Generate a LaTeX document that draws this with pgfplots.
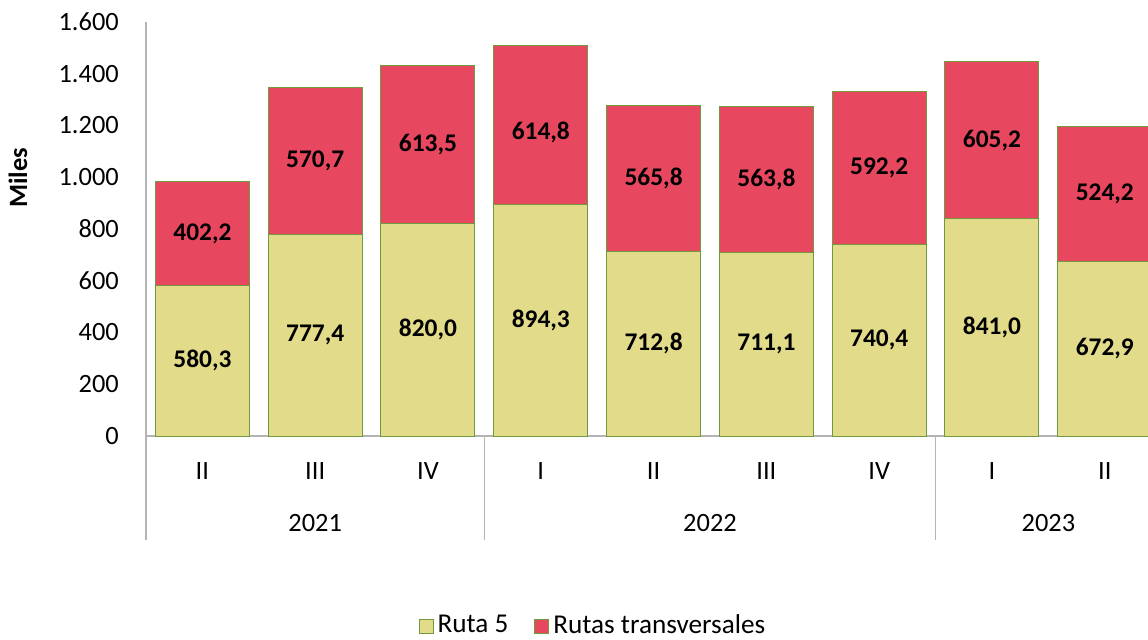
\documentclass[border=0pt]{standalone}
\usepackage{pgfplots}
\pgfplotsset{compat=1.18}
\usepackage{fontspec}
\setmainfont{Carlito}
\definecolor{ruta}{HTML}{E2DB8A}
\definecolor{transv}{HTML}{E8485F}
\definecolor{edge}{HTML}{6F9A3E}
\definecolor{axisgray}{HTML}{B4B4B4}

\begin{document}
\fontsize{13.2}{15}\selectfont
\begin{tikzpicture}
\useasboundingbox (-73pt,-101.5pt) rectangle (501pt,218pt);
\begin{axis}[
  at={(0,0)}, anchor=south west,
  scale only axis, width=501pt, height=207pt,
  ybar stacked, bar width=47pt,
  xmin=-0.5, xmax=8.383, ymin=0, ymax=1600,
  clip mode=individual,
  axis x line*=bottom, axis y line*=left,
  axis line style={axisgray, line width=0.6pt},
  xtick={0,...,8},
  xticklabels={II,III,IV,I,II,III,IV,I,II},
  ytick={0,200,...,1600},
  major tick length=0pt,
  tick style={draw=none},
  tick label style={font=\fontsize{13.2}{15}\selectfont},
  yticklabel style={xshift=-9pt},
  xticklabel style={yshift=-8.5pt},
  /pgf/number format/1000 sep={.},
  /pgf/number format/assume math mode=true,
  legend style={at={(0.447,-0.459)}, anchor=center, draw=none,
    legend columns=2, font=\fontsize{13.6}{15}\selectfont,
    inner sep=1pt,
    /tikz/every even column/.append style={column sep=11pt}},
  legend image code/.code={\draw[#1] (0pt,-3.5pt) rectangle (7pt,3.5pt);},
]
\addplot[fill=ruta, draw=edge, line width=0.5pt] coordinates {
(0,580.3) (1,777.4) (2,820.0) (3,894.3) (4,712.8) (5,711.1) (6,740.4) (7,841.0) (8,672.9)
};
\addplot[fill=transv, draw=edge, line width=0.5pt] coordinates {
(0,402.2) (1,570.7) (2,613.5) (3,614.8) (4,565.8) (5,563.8) (6,592.2) (7,605.2) (8,524.2)
};
\legend{Ruta 5, Rutas transversales}
% multilevel category axis
\draw[axisgray, line width=0.6pt] (axis cs:-0.5,0) -- ([yshift=-52pt]axis cs:-0.5,0);
\draw[axisgray, line width=0.6pt] (axis cs:2.5,0) -- ([yshift=-52pt]axis cs:2.5,0);
\draw[axisgray, line width=0.6pt] (axis cs:6.5,0) -- ([yshift=-52pt]axis cs:6.5,0);
\node at ([yshift=-43.5pt]axis cs:1,0) {2021};
\node at ([yshift=-43.5pt]axis cs:4.5,0) {2022};
\node at ([yshift=-43.5pt]axis cs:7.5,0) {2023};
\end{axis}
% data labels, centred in each segment
\begin{axis}[
  at={(0,0)}, anchor=south west,
  scale only axis, width=501pt, height=207pt,
  xmin=-0.5, xmax=8.383, ymin=0, ymax=1600,
  hide axis, clip=false,
]
\addplot[draw=none, mark=none, nodes near coords, point meta=explicit symbolic,
  nodes near coords style={anchor=center, font=\fontsize{12.7}{15}\selectfont\bfseries}]
coordinates {
(0,290.15) [{580,3}] (1,388.7) [{777,4}] (2,410.0) [{820,0}] (3,447.15) [{894,3}]
(4,356.4) [{712,8}] (5,355.55) [{711,1}] (6,370.2) [{740,4}] (7,420.5) [{841,0}]
(8,336.45) [{672,9}]
};
\addplot[draw=none, mark=none, nodes near coords, point meta=explicit symbolic,
  nodes near coords style={anchor=center, font=\fontsize{12.7}{15}\selectfont\bfseries}]
coordinates {
(0,781.4) [{402,2}] (1,1062.75) [{570,7}] (2,1126.75) [{613,5}] (3,1172) [{614,8}]
(4,995.7) [{565,8}] (5,993.0) [{563,8}] (6,1036.5) [{592,2}] (7,1140) [{605,2}]
(8,935.0) [{524,2}]
};
\end{axis}
\node[rotate=90, font=\bfseries] at (-64pt,129pt) {Miles};
\end{tikzpicture}
\end{document}
